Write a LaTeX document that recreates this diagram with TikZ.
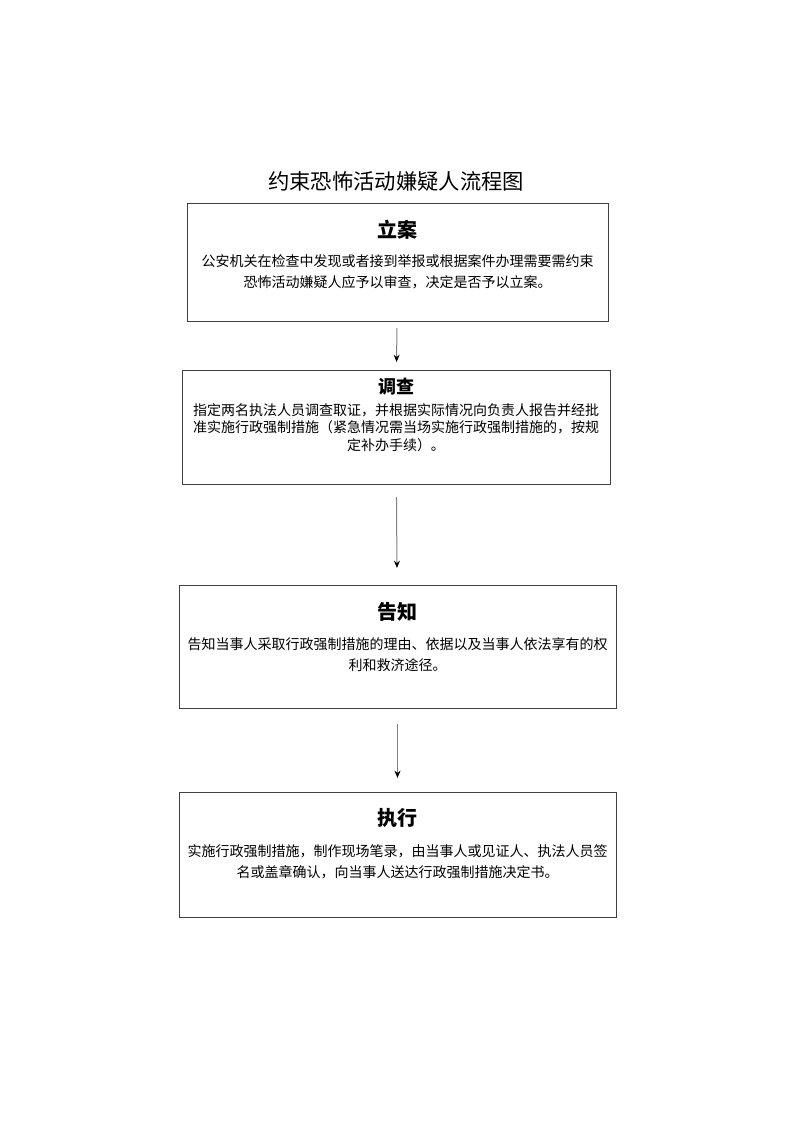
\documentclass[tikz,border=0pt]{standalone}
\usepackage{fontspec}
\setmainfont{Noto Sans CJK SC}
\usetikzlibrary{arrows.meta}

\begin{document}
\begin{tikzpicture}[x=0.75pt,y=-0.75pt,>={Stealth[length=5.5pt,width=4.5pt,black]},
  stepbox/.style={draw=black!75,line width=0.75pt,inner sep=0pt,outer sep=0pt},
  steptitle/.style={font=\fontsize{15}{18}\selectfont\bfseries},
  steptext/.style={align=center,font=\fontsize{10.5}{15.75}\selectfont},
  flow/.style={->,draw=black!50,line width=0.75pt}]
  \useasboundingbox (0,0) rectangle (793,1122);
  \node[font=\fontsize{16}{19}\selectfont] (head) at (396,181) {约束恐怖活动嫌疑人流程图};
  % 立案
  \node[stepbox,minimum width=315.75pt,minimum height=88.5pt] (lian) at (397.5,262) {};
  \node[steptitle] (liant) at (397.5,230) {立案};
  \node[steptext] (lianb) at (397.5,272) {公安机关在检查中发现或者接到举报或根据案件办理需要需约束\\恐怖活动嫌疑人应予以审查，决定是否予以立案。};
  % 调查
  \node[stepbox,minimum width=321pt,minimum height=85.5pt] (diaocha) at (396,427) {};
  \node[steptitle,font=\fontsize{13.5}{16}\selectfont\bfseries] (diaochat) at (396,387) {调查};
  \node[steptext,font=\fontsize{10.5}{13.1}\selectfont] (diaochab) at (396,427.5) {指定两名执法人员调查取证，并根据实际情况向负责人报告并经批\\准实施行政强制措施（紧急情况需当场实施行政强制措施的，按规\\定补办手续）。};
  % 告知
  \node[stepbox,minimum width=327.75pt,minimum height=92.25pt] (gaozhi) at (397.5,646.5) {};
  \node[steptitle] (gaozhit) at (397.5,612) {告知};
  \node[steptext] (gaozhib) at (397.5,655) {告知当事人采取行政强制措施的理由、依据以及当事人依法享有的权\\利和救济途径。};
  % 执行
  \node[stepbox,minimum width=327.75pt,minimum height=93.75pt] (zhixing) at (397.5,854.5) {};
  \node[steptitle] (zhixingt) at (397.5,818) {执行};
  \node[steptext] (zhixingb) at (397.5,861.5) {实施行政强制措施，制作现场笔录，由当事人或见证人、执法人员签\\名或盖章确认，向当事人送达行政强制措施决定书。};
  \draw[flow,shorten <=5.25pt,shorten >=6pt] (lian) -- (diaocha);
  \draw[flow,shorten <=9.75pt,shorten >=12.75pt] (diaocha) -- (gaozhi);
  \draw[flow,shorten <=12pt,shorten >=10.5pt] (gaozhi) -- (zhixing);
\end{tikzpicture}
\end{document}
